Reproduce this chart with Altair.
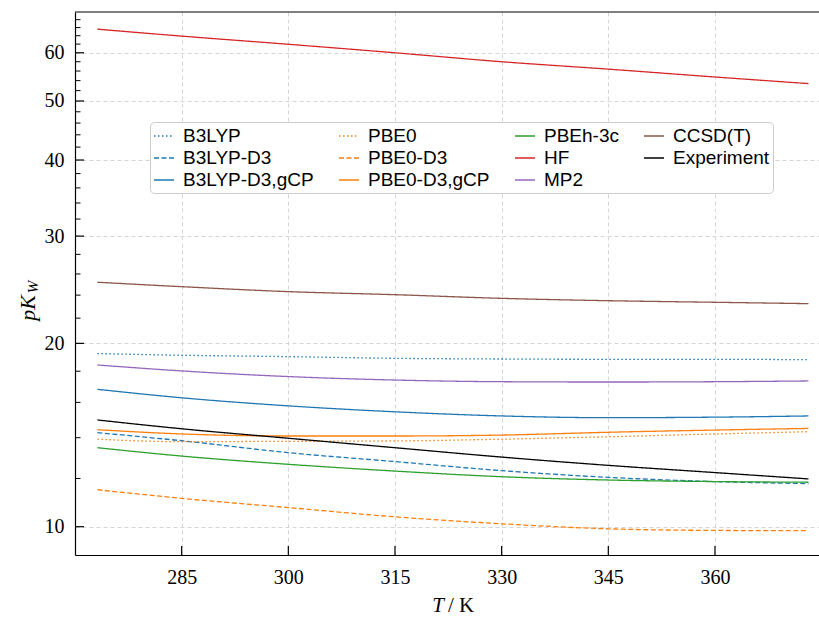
import altair as alt
import pandas as pd

# ---------------- data ----------------
T = [273.15, 285, 300, 315, 330, 345, 360, 373.15]

series_names = ["B3LYP", "B3LYP-D3", "B3LYP-D3,gCP", "PBE0", "PBE0-D3", "PBE0-D3,gCP",
                "PBEh-3c", "HF", "MP2", "CCSD(T)", "Experiment"]

B3LYP = [19.24, 19.12, 19.02, 18.90, 18.85, 18.83, 18.83, 18.80]
B3LYP_D3 = [14.27, 13.84, 13.23, 12.79, 12.36, 12.05, 11.86, 11.77]
B3LYP_D3_gCP = [16.81, 16.28, 15.79, 15.44, 15.20, 15.10, 15.13, 15.20]
PBE0 = [13.92, 13.79, 13.81, 13.83, 13.92, 14.05, 14.20, 14.32]
PBE0_D3 = [11.50, 11.13, 10.75, 10.38, 10.11, 9.92, 9.86, 9.85]
PBE0_D3_gCP = [14.43, 14.20, 14.09, 14.09, 14.14, 14.29, 14.41, 14.50]
PBEh_3c = [13.48, 13.06, 12.66, 12.34, 12.08, 11.93, 11.86, 11.83]
HF = [65.6, 63.9, 61.96, 60.0, 58.0, 56.4, 54.75, 53.4]
MP2 = [18.43, 18.02, 17.64, 17.41, 17.30, 17.28, 17.30, 17.35]
CCSD_T = [25.2, 24.78, 24.32, 24.04, 23.71, 23.50, 23.36, 23.24]
Experiment = [14.97, 14.48, 13.97, 13.48, 13.01, 12.61, 12.27, 11.98]

series_values = [B3LYP, B3LYP_D3, B3LYP_D3_gCP, PBE0, PBE0_D3, PBE0_D3_gCP,
                 PBEh_3c, HF, MP2, CCSD_T, Experiment]

x_ticks = [285, 300, 315, 330, 345, 360]
y_major = [10, 20, 30, 40, 50, 60]
y_minor = [12, 14, 16, 18, 22, 24, 26, 28, 32, 34, 36, 38, 42, 44, 46, 48,
           52, 54, 56, 58, 62, 64, 66, 68]

color_map = {
    "B3LYP": "#1f77b4", "B3LYP-D3": "#1f77b4", "B3LYP-D3,gCP": "#1f77b4",
    "PBE0": "#ff7f0e", "PBE0-D3": "#ff7f0e", "PBE0-D3,gCP": "#ff7f0e",
    "PBEh-3c": "#2ca02c", "HF": "#d62728", "MP2": "#9467bd",
    "CCSD(T)": "#8c564b", "Experiment": "#000000",
}
dot = [1.5, 2.5]
dash = [5, 2.5]
solid = [1, 0]
dash_map = {
    "B3LYP": dot, "B3LYP-D3": dash, "B3LYP-D3,gCP": solid,
    "PBE0": dot, "PBE0-D3": dash, "PBE0-D3,gCP": solid,
    "PBEh-3c": solid, "HF": solid, "MP2": solid, "CCSD(T)": solid, "Experiment": solid,
}

rows = []
for name, vals in zip(series_names, series_values):
    for t, v in zip(T, vals):
        rows.append({"T": t, "pKw": v, "method": name})
df = pd.DataFrame(rows)

W, H = 744, 543
XDOM = [270.0, 374.63]
YDOM = [8.985, 70.0]
SERIF = "Liberation Serif"
SANS = "Liberation Sans"

xscale = alt.Scale(domain=XDOM, nice=False, zero=False)
yscale = alt.Scale(type="log", domain=YDOM, nice=False)

xaxis = alt.Axis(values=x_ticks, title=None, grid=True, ticks=False,
                 labelFont=SERIF, labelFontSize=20, labelPadding=12,
                 labelColor="black", domainColor="black", domainWidth=1.2,
                 gridDash=[4, 3], gridColor="#d6d6d6", gridWidth=1)
yaxis = alt.Axis(values=y_major, title=None, grid=True, ticks=False,
                 labelFont=SERIF, labelFontSize=20, labelPadding=11,
                 labelColor="black", domainColor="black", domainWidth=1.2,
                 gridDash=[4, 3], gridColor="#d6d6d6", gridWidth=1)

legend = alt.Legend(title=None, orient="none", legendX=75, legendY=110,
                    columns=4, symbolType="stroke", symbolSize=400,
                    symbolStrokeWidth=1.5, labelOffset=8,
                    columnPadding=22, rowPadding=1, padding=3,
                    labelFont=SANS, labelFontSize=19,
                    labelColor="black",
                    strokeColor="#cccccc", fillColor="white",
                    cornerRadius=4)

lines = alt.Chart(df).mark_line(strokeWidth=1.3, interpolate="monotone", clip=True).encode(
    x=alt.X("T:Q", scale=xscale, axis=xaxis),
    y=alt.Y("pKw:Q", scale=yscale, axis=yaxis),
    color=alt.Color("method:N",
                    scale=alt.Scale(domain=series_names,
                                    range=[color_map[m] for m in series_names]),
                    legend=legend),
    strokeDash=alt.StrokeDash("method:N",
                              scale=alt.Scale(domain=series_names,
                                              range=[dash_map[m] for m in series_names]),
                              legend=legend),
    detail="method:N",
)

ymaj_df = pd.DataFrame({"v": y_major})
ymin_df = pd.DataFrame({"v": y_minor})
xt_df = pd.DataFrame({"v": x_ticks})

ymaj = alt.Chart(ymaj_df).mark_rule(color="black", strokeWidth=1.2).encode(
    y=alt.Y("v:Q", scale=yscale, axis=yaxis), x=alt.value(0), x2=alt.value(9))
ymin = alt.Chart(ymin_df).mark_rule(color="black", strokeWidth=1.0).encode(
    y=alt.Y("v:Q", scale=yscale, axis=yaxis), x=alt.value(0), x2=alt.value(5.5))
xt = alt.Chart(xt_df).mark_rule(color="black", strokeWidth=1.2).encode(
    x=alt.X("v:Q", scale=xscale, axis=xaxis), y=alt.value(H), y2=alt.value(H - 9))

top_border = alt.Chart(pd.DataFrame({"a": [0]})).mark_rule(color="black", strokeWidth=1.2).encode(
    x=alt.value(0), x2=alt.value(W), y=alt.value(0))

# axis titles as text (italic symbols + upright unit)
t_T = alt.Chart(pd.DataFrame({"s": ["T"]})).mark_text(
    font=SERIF, fontSize=21, fontStyle="italic", align="right", baseline="middle", color="black"
).encode(x=alt.value(369), y=alt.value(594), text="s:N")
t_K = alt.Chart(pd.DataFrame({"s": ["/ K"]})).mark_text(
    font=SERIF, fontSize=21, align="left", baseline="middle", color="black"
).encode(x=alt.value(373), y=alt.value(594), text="s:N")
t_pK = alt.Chart(pd.DataFrame({"s": ["pK"]})).mark_text(
    font=SERIF, fontSize=22, fontStyle="italic", align="center", baseline="middle",
    angle=270, color="black"
).encode(x=alt.value(-47), y=alt.value(296), text="s:N")
t_W = alt.Chart(pd.DataFrame({"s": ["W"]})).mark_text(
    font=SERIF, fontSize=15, fontStyle="italic", align="center", baseline="middle",
    angle=270, color="black"
).encode(x=alt.value(-42), y=alt.value(275), text="s:N")

chart = alt.layer(lines, ymaj, ymin, xt, top_border, t_T, t_K, t_pK, t_W).properties(
    width=W, height=H,
    padding={"left": 75, "top": 12, "right": 0, "bottom": 62},
    autosize=alt.AutoSizeParams(type="none"),
).configure(
    background="white",
    font=SERIF,
    axis=alt.AxisConfig(labelFont=SERIF, labelFontSize=20, labelColor="black"),
    view=alt.ViewConfig(stroke=None),
)

chart.save("out.html", embed_options={"renderer": "svg", "actions": False})
